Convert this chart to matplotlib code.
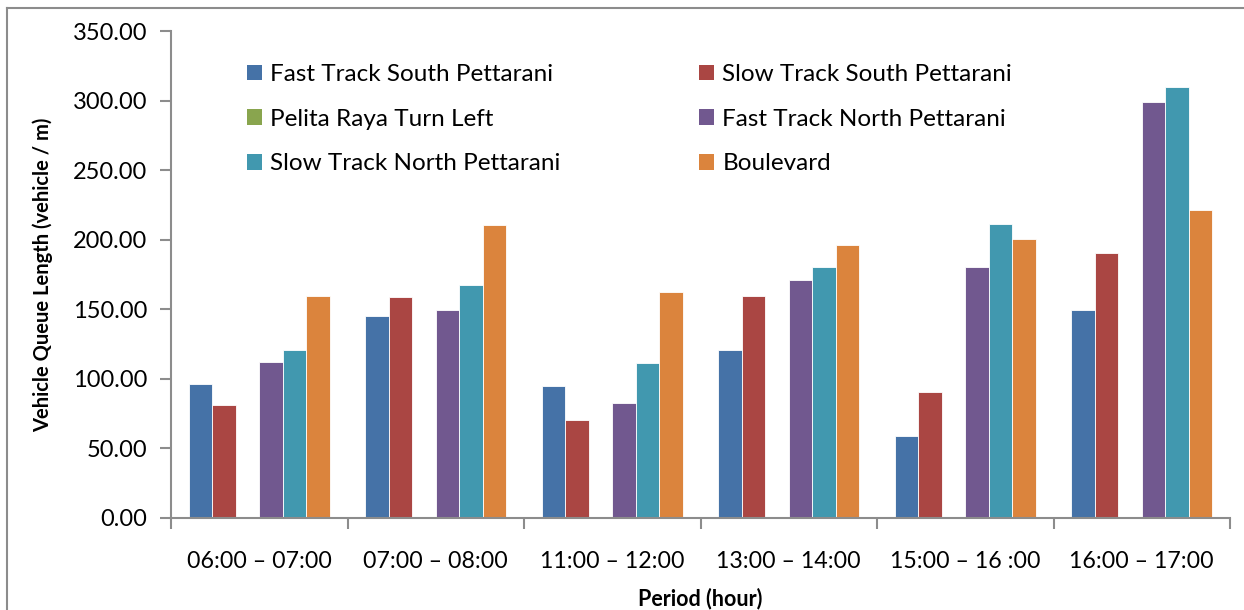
import matplotlib
matplotlib.use("Agg")
import matplotlib.pyplot as plt
import numpy as np
from matplotlib.ticker import FormatStrFormatter, FixedLocator
from matplotlib.patches import Patch
from matplotlib.lines import Line2D

periods = ["06:00 – 07:00", "07:00 – 08:00", "11:00 – 12:00",
           "13:00 – 14:00", "15:00 – 16 :00", "16:00 – 17:00"]

fast_south = [96.5, 145.2, 95.2, 120.7, 59.0, 149.4]
slow_south = [81.0, 158.9, 70.1, 159.3, 90.2, 190.6]
pelita_left = [0.0, 0.0, 0.0, 0.0, 0.0, 0.0]
fast_north = [112.1, 149.8, 82.5, 170.7, 180.5, 299.1]
slow_north = [120.5, 167.7, 111.7, 180.6, 211.1, 309.7]
boulevard = [159.3, 210.4, 162.1, 196.3, 200.6, 221.2]

series_names = ["Fast Track South Pettarani", "Slow Track South Pettarani",
                "Pelita Raya Turn Left", "Fast Track North Pettarani",
                "Slow Track North Pettarani", "Boulevard"]
series_values = [fast_south, slow_south, pelita_left, fast_north, slow_north, boulevard]
colors = ["#4572A7", "#AA4643", "#89A54E", "#71588F", "#4198AF", "#DB843D"]

plt.rcParams["font.family"] = ["Lato", "DejaVu Sans"]

fig = plt.figure(figsize=(12.44, 6.10), dpi=100)
ax = fig.add_axes([171 / 1244, 1 - 518 / 610, (1230 - 171) / 1244, (518 - 31) / 610])

x = np.arange(len(periods))
n = len(series_values)
w = 1 / (n + 1.5)
for k, (vals, col) in enumerate(zip(series_values, colors)):
    ax.bar(x + (k - (n - 1) / 2) * w, vals, width=w, color=col,
           edgecolor="white", linewidth=0.6, zorder=2)

ax.set_xlim(-0.5, len(periods) - 0.5)
ax.set_ylim(0, 350)
ax.set_yticks(np.arange(0, 351, 50))
ax.yaxis.set_major_formatter(FormatStrFormatter("%.2f"))

ax.xaxis.set_major_locator(FixedLocator(np.arange(-0.5, len(periods), 1.0)))
ax.xaxis.set_minor_locator(FixedLocator(x))
ax.set_xticklabels([""] * (len(periods) + 1))
ax.set_xticklabels(periods, minor=True)
ax.tick_params(axis="x", which="major", length=8, width=1.5, color="#8c8c8c", direction="out")
ax.tick_params(axis="x", which="minor", length=0, pad=24, labelsize=16.7)
ax.tick_params(axis="y", length=8, width=1.5, color="#8c8c8c", direction="out", labelsize=17, pad=9)

for side in ["top", "right"]:
    ax.spines[side].set_visible(False)
for side in ["left", "bottom"]:
    ax.spines[side].set_color("#8c8c8c")
    ax.spines[side].set_linewidth(1.5)

ax.set_ylabel("Vehicle Queue Length (vehicle / m)", fontsize=14.5, fontweight="bold", labelpad=14)
ax.set_xlabel("Period (hour)", fontsize=15.5, fontweight="bold", labelpad=11)

handles = [Patch(facecolor=c, edgecolor="none") for c in colors]
order = [0, 2, 4, 1, 3, 5]
ax.legend([handles[i] for i in order], [series_names[i] for i in order],
          ncol=2, loc="upper left", bbox_to_anchor=(0.072, 0.932), frameon=False,
          fontsize=17.5, handlelength=0.62, handleheight=0.62, handletextpad=0.33,
          columnspacing=5.7, labelspacing=0.97, borderaxespad=0, borderpad=0)

# outer chart frame
fig.add_artist(Line2D([7 / 1244, 7 / 1244], [0, 1 - 8 / 610], transform=fig.transFigure,
                      color="#8c8c8c", linewidth=1.5))
fig.add_artist(Line2D([7 / 1244, 1], [1 - 8 / 610, 1 - 8 / 610], transform=fig.transFigure,
                      color="#8c8c8c", linewidth=1.5))

fig.savefig("out.png", dpi=100)
